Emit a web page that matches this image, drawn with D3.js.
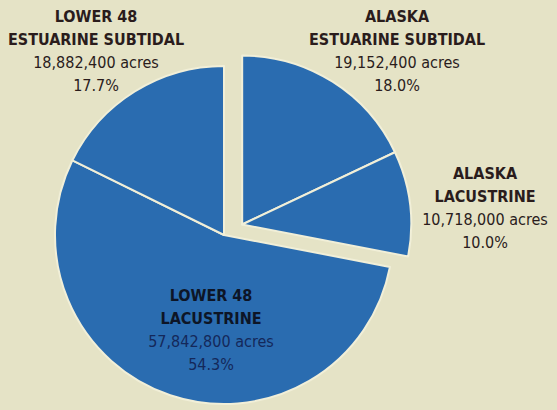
<!DOCTYPE html>
<html>
<head>
<meta charset="utf-8">
<script src="https://cdn.jsdelivr.net/npm/d3@7"></script>
<style>
  body { margin: 0; background: #e5e3c6; }
  svg { display: block; }
  .title { font-family: "DejaVu Sans Condensed", "DejaVu Sans", sans-serif; font-weight: bold; font-size: 16px; }
  .value { font-family: "DejaVu Sans Condensed", "DejaVu Sans", sans-serif; font-size: 16px; }
</style>
</head>
<body>
<svg id="chart" width="557" height="410"></svg>
<script>
// wetland area by type (acres)
const categories = ['ALASKA|ESTUARINE SUBTIDAL', 'ALASKA|LACUSTRINE', 'LOWER 48|LACUSTRINE', 'LOWER 48|ESTUARINE SUBTIDAL'];
const acres = [19152400, 10718000, 57842800, 18882400];
const percents = ['18.0%', '10.0%', '54.3%', '17.7%'];
const exploded = [true, true, false, false];

// label anchors (center x, first baseline y) and whether inside the pie
const labelPos = [[397, 22, false], [485, 179, false], [211, 301, true], [96, 22, false]];

const svg = d3.select('#chart');
const width = +svg.attr('width');
const height = +svg.attr('height');

const cx = 224, cy = 235, radius = 169;
const explodeDist = 21, explodeAngle = 60 * Math.PI / 180;

const pie = d3.pie().sort(null).value(d => d.acres);
const arc = d3.arc().innerRadius(0).outerRadius(radius);

const data = categories.map((c, i) => ({ name: c, acres: acres[i], pct: percents[i], exploded: exploded[i] }));

const g = svg.append('g').attr('transform', 'translate(' + cx + ',' + cy + ')');

g.selectAll('path.slice')
  .data(pie(data))
  .enter()
  .append('path')
  .attr('class', 'slice')
  .attr('d', arc)
  .attr('fill', '#2a6cb0')
  .attr('stroke', '#f1efd8')
  .attr('stroke-width', 2)
  .attr('stroke-linejoin', 'round')
  .attr('transform', d => {
    if (!d.data.exploded) return null;
    const dx = explodeDist * Math.sin(explodeAngle);
    const dy = -explodeDist * Math.cos(explodeAngle);
    return 'translate(' + dx + ',' + dy + ')';
  });

const fmt = d3.format(',');
const lineH = 23;

data.forEach((d, i) => {
  const [x, y, inside] = labelPos[i];
  const parts = d.name.split('|');
  const lines = [
    { t: parts[0], cls: 'title' },
    { t: parts[1], cls: 'title' },
    { t: fmt(d.acres) + ' acres', cls: 'value' },
    { t: d.pct, cls: 'value' },
  ];
  const txt = svg.append('g');
  lines.forEach((l, j) => {
    txt.append('text')
      .attr('class', l.cls)
      .attr('x', x)
      .attr('y', y + j * lineH)
      .attr('text-anchor', 'middle')
      .attr('fill', inside ? (l.cls === 'title' ? '#0d1526' : '#14285a') : '#2a1c1c')
      .text(l.t);
  });
});
</script>
</body>
</html>
